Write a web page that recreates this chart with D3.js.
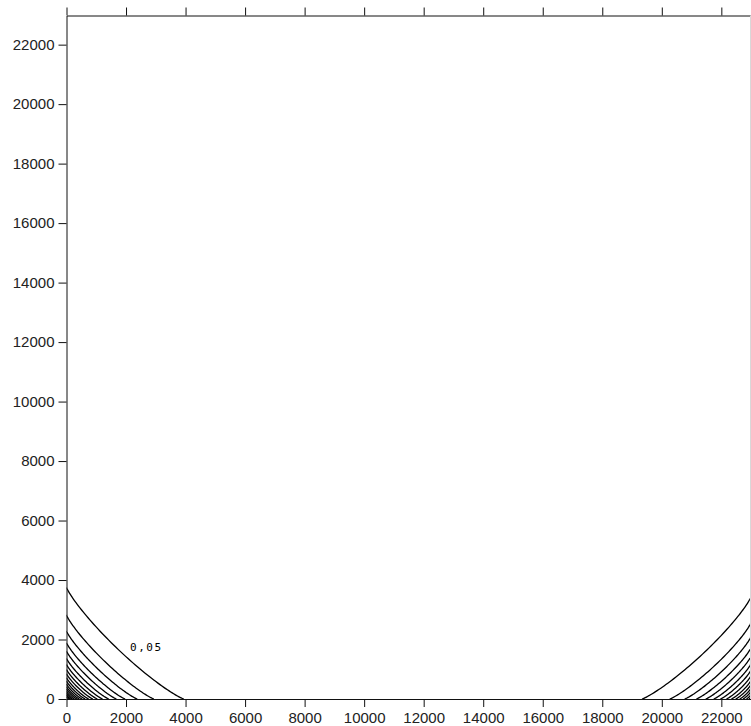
<!DOCTYPE html>
<html><head><meta charset="utf-8">
<script src="https://cdn.jsdelivr.net/npm/d3@7"></script>
<style>
html,body{margin:0;padding:0;background:#fff;}
svg{display:block;}
.tick text{font-family:"Liberation Sans",Arial,sans-serif;font-size:15px;fill:#222;}
</style></head>
<body>
<svg id="chart" width="751" height="726"></svg>
<script>
// ---- data ----
const xDomain = [0, 22980];
const yDomain = [0, 22980];
const xTicks = [0,2000,4000,6000,8000,10000,12000,14000,16000,18000,20000,22000];
const yTicks = [0,2000,4000,6000,8000,10000,12000,14000,16000,18000,20000,22000];
// left (origin) contour family: intercepts on the x axis and on the y axis
const leftXInts = [3940, 2937, 2377, 1970, 1678, 1422, 1212, 1037, 885, 746, 629, 524, 431, 349, 268, 198, 139, 81];
const leftYInts = [3754, 2824, 2286, 1894, 1613, 1367, 1165, 997, 851, 717, 605, 504, 414, 336, 258, 190, 134, 78];
// right contour family: intercepts on the x axis and heights where they meet the right edge
const rightXInts = [19335, 20265, 20768, 21160, 21475, 21744, 21968, 22170, 22337, 22482, 22616, 22728, 22842, 22929];
const rightEdgeH = [3410, 2540, 2070, 1700, 1410, 1160, 950, 760, 600, 465, 340, 235, 130, 48];
const contourLabel = "0,05";
const labelAt = [2680, 1600];

// ---- layout ----
const svg = d3.select("#chart");
const x = d3.scaleLinear().domain(xDomain).range([66.5, 750.5]);
const y = d3.scaleLinear().domain(yDomain).range([699, 15.5]);
const p = 0.85;

svg.append("defs").append("clipPath").attr("id","clip")
  .append("rect").attr("x",66.5).attr("y",15.5).attr("width",684).attr("height",683.5);

const line = d3.line().x(d=>x(d[0])).y(d=>y(d[1]));
const ts = d3.range(0, 1.0001, 1/80).map(u=>u*Math.PI/2);
function quarter(cx, rx, ry, dir){
  return ts.map(t=>{
    const c = Math.pow(Math.cos(t), 2/p), s = Math.pow(Math.sin(t), 2/p);
    return [cx + dir*rx*c, ry*s];
  });
}
const g = svg.append("g").attr("clip-path","url(#clip)");
leftXInts.forEach((xi,i)=>{
  g.append("path").attr("d", line(quarter(0, xi, leftYInts[i], 1)))
    .attr("fill","none").attr("stroke","#000").attr("stroke-width",1.3);
});
rightXInts.forEach((xi,i)=>{
  g.append("path").attr("d", line(quarter(xDomain[1], xDomain[1]-xi, rightEdgeH[i], -1)))
    .attr("fill","none").attr("stroke","#000").attr("stroke-width",1.3);
});

svg.append("text").attr("x", x(labelAt[0])).attr("y", y(labelAt[1]))
  .attr("text-anchor","middle")
  .style("font-family","'DejaVu Sans Mono',monospace").style("font-size","11px")
  .style("letter-spacing","1.5px").attr("fill","#000").text(contourLabel);

// axes
const fmt = d3.format("d");
const axBottom = svg.append("g").attr("transform","translate(0,699)")
  .call(d3.axisBottom(x).tickValues(xTicks).tickFormat(fmt).tickSize(8).tickPadding(5).tickSizeOuter(0));
const axLeft = svg.append("g").attr("transform","translate(66.5,0)")
  .call(d3.axisLeft(y).tickValues(yTicks).tickFormat(fmt).tickSize(8).tickPadding(4).tickSizeOuter(0));
const axTop = svg.append("g").attr("transform","translate(0,15.5)")
  .call(d3.axisTop(x).tickValues(xTicks).tickFormat("").tickSize(8).tickSizeOuter(0));
[axBottom,axLeft,axTop].forEach(a=>{a.selectAll("path,line").attr("stroke","#111");});
svg.append("line").attr("x1",750.5).attr("x2",750.5).attr("y1",15.5).attr("y2",699)
  .attr("stroke","#d8d8d8");
</script>
</body></html>
